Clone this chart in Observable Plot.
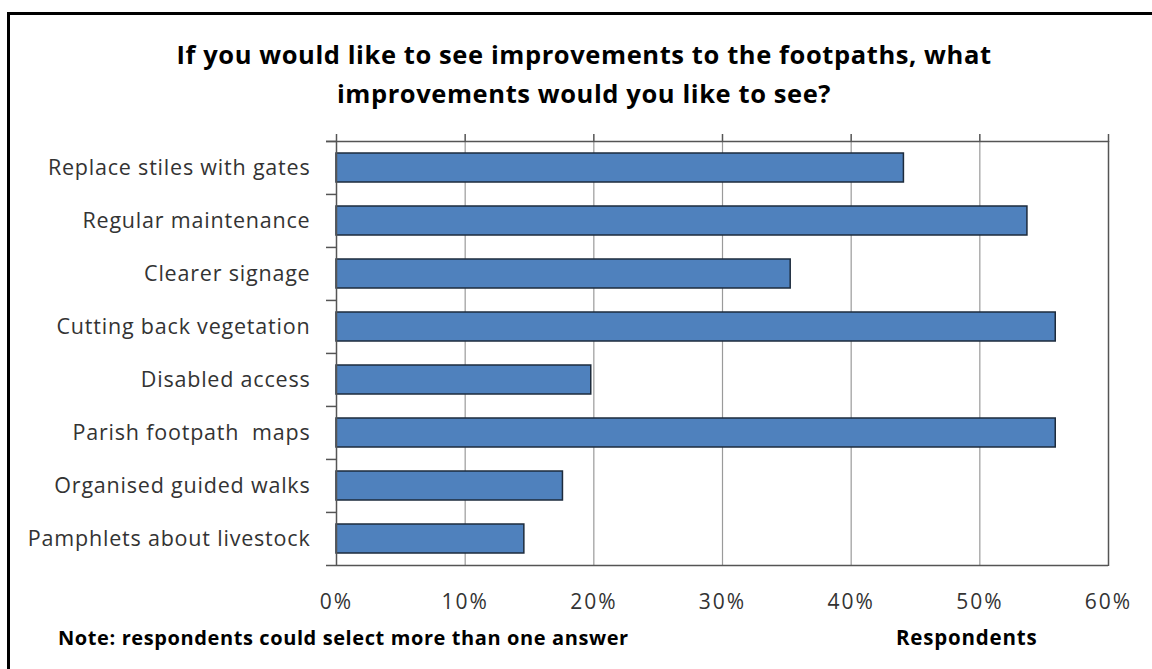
<!DOCTYPE html>
<html><head><meta charset="utf-8">
<script src="https://cdn.jsdelivr.net/npm/d3@7"></script>
<script src="https://cdn.jsdelivr.net/npm/@observablehq/plot@0.6"></script>
<style>
html,body{margin:0;padding:0;background:#fff;overflow:hidden;}
#wrap{position:relative;width:1152px;height:669px;overflow:hidden;font-family:"Open Sans",sans-serif;background:#fff;}
#frame{position:absolute;left:7px;top:12px;right:0;bottom:0;border-left:3px solid #000;border-top:3px solid #000;z-index:5;pointer-events:none;}
#title{position:absolute;left:0;width:1168px;top:35px;text-align:center;font-weight:bold;font-size:25.5px;letter-spacing:0.6px;line-height:39px;color:#000;}
#chart{position:absolute;left:0;top:120px;}
#note{position:absolute;left:58px;top:625px;font-weight:bold;font-size:20px;letter-spacing:0.6px;line-height:26px;color:#000;white-space:nowrap;}
#xlabel{position:absolute;left:896px;top:624px;font-weight:bold;font-size:20.5px;letter-spacing:0.8px;line-height:26px;color:#000;}
</style></head>
<body>
<div id="wrap">
  <div id="title">If you would like to see improvements to the footpaths, what<br>improvements would you like to see?</div>
  <div id="chart"></div>
  <div id="note">Note: respondents could select more than one answer</div>
  <div id="xlabel">Respondents</div>
  <div id="frame"></div>
</div>
<script>
const categories = ["Replace stiles with gates","Regular maintenance","Clearer signage","Cutting back vegetation","Disabled access","Parish footpath  maps","Organised guided walks","Pamphlets about livestock"];
const values = [0.441, 0.537, 0.353, 0.559, 0.198, 0.559, 0.176, 0.146];
const xTicks = [0, 0.1, 0.2, 0.3, 0.4, 0.5, 0.6];

const data = categories.map((c, i) => ({category: c, value: values[i]}));
const W = 1152, H = 500, mT = 21, mB = 54, mL = 336, mR = 44;
const step = (H - mT - mB) / categories.length;
const axisColor = "#555";
const tickOut = -0.1 * 10 / ((W - mL - mR) / 6); // ~10px to the left in data units

const chart = Plot.plot({
  width: W, height: H,
  marginTop: mT, marginBottom: mB, marginLeft: mL, marginRight: mR,
  style: {fontFamily: "'Open Sans', sans-serif", background: "transparent", overflow: "visible"},
  x: {domain: [0, 0.6], ticks: xTicks},
  y: {domain: categories, paddingInner: 0.45, paddingOuter: 0.225},
  marks: [
    Plot.gridX(xTicks.slice(1, -1), {stroke: "#9a9a9a", strokeOpacity: 1, strokeWidth: 1.2}),
    Plot.barX(data, {x: "value", y: "category", fill: "#4F81BD", stroke: "#1d2b3c", strokeWidth: 1.5}),
    // plot area borders: left axis line and right edge
    Plot.ruleX([0, 0.6], {stroke: axisColor, strokeWidth: 1.5}),
    // category boundary ticks (left)
    Plot.ruleY(categories, {y: d => d, dy: -step / 2, x1: tickOut, x2: 0, stroke: axisColor, strokeWidth: 1.5}),
    // top axis line
    Plot.ruleY([categories[0]], {y: d => d, dy: -step / 2, x1: tickOut, x2: 0.6, stroke: axisColor, strokeWidth: 1.5}),
    // bottom line
    Plot.ruleY([categories[categories.length - 1]], {y: d => d, dy: step / 2, x1: tickOut, x2: 0.6, stroke: axisColor, strokeWidth: 1.5}),
    // top ticks (pointing up), no labels
    Plot.axisX({anchor: "top", ticks: xTicks, tickSize: 8, tickFormat: () => "", stroke: axisColor, strokeWidth: 1.5, label: null}),
    // bottom labels
    Plot.axisX({anchor: "bottom", ticks: xTicks, tickSize: 0, tickPadding: 28, tickFormat: d => Math.round(d * 100) + "%", fontSize: 21, fill: "#333", label: null}),
    // category labels
    Plot.axisY({anchor: "left", tickSize: 0, tickPadding: 26, fontSize: 21.5, fill: "#333", label: null, textOverflow: null, lineWidth: Infinity})
  ]
});
chart.querySelectorAll("text").forEach(t => t.style.whiteSpace = "pre");
// widen glyph spacing to match the reference's letter widths
chart.querySelectorAll("[aria-label='x-axis tick label'] text").forEach(t => t.style.letterSpacing = "2px");
chart.querySelectorAll("[aria-label='y-axis tick label'] text").forEach(t => t.style.letterSpacing = "0.8px");
document.getElementById("chart").appendChild(chart);
</script>
</body></html>
